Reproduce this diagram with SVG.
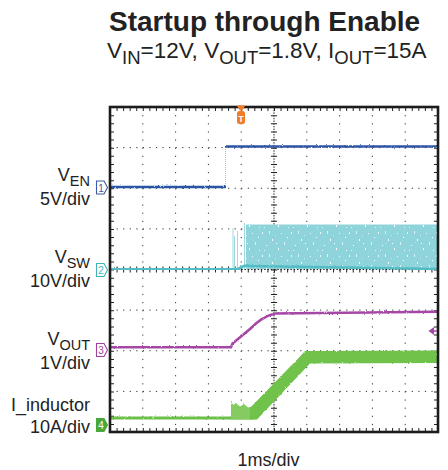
<svg xmlns="http://www.w3.org/2000/svg" width="448" height="470" viewBox="0 0 448 470">
  <defs>
    <style>
      .lbl { font-family: "Liberation Sans", Arial, sans-serif; font-size: 18px; fill: #222; }
      .title { font-family: "Liberation Sans", Arial, sans-serif; font-size: 28px; font-weight: bold; fill: #222; }
      .sub { font-family: "Liberation Sans", Arial, sans-serif; font-size: 22.5px; fill: #222; }
      .hgrid { stroke: #333; stroke-width: 1; stroke-dasharray: 1.2 5.36; fill: none; }
      .vgrid { stroke: #333; stroke-width: 1; stroke-dasharray: 1.2 6.925; fill: none; }
      .tag { stroke-width: 1.1; }
      .tagnum { font-family: "Liberation Sans", Arial, sans-serif; font-size: 10px; text-anchor: middle; }
    </style>
    <!-- roughness applied to the scope traces -->
    <filter id="rough" x="-5%" y="-20%" width="110%" height="140%">
      <feTurbulence type="fractalNoise" baseFrequency="0.9" numOctaves="2" seed="3" result="n"/>
      <feDisplacementMap in="SourceGraphic" in2="n" scale="2.2" xChannelSelector="R" yChannelSelector="G"/>
    </filter>
    <!-- speckled fill for the switching-node band -->
    <pattern id="speck" width="29" height="23" patternUnits="userSpaceOnUse">
      <rect width="29" height="23" fill="#8fd4db"/>
      <rect x="1" y="2" width="1" height="2" fill="#eef9fa"/>
      <rect x="5" y="15" width="1" height="1" fill="#ffffff"/>
      <rect x="8" y="1" width="1" height="3" fill="#d8f1f3"/>
      <rect x="11" y="9" width="1" height="2" fill="#ffffff"/>
      <rect x="3" y="20" width="1" height="1" fill="#e2f4f6"/>
      <rect x="14" y="5" width="1" height="1" fill="#c4e9ec"/>
      <rect x="17" y="18" width="1" height="2" fill="#ffffff"/>
      <rect x="20" y="3" width="1" height="1" fill="#eef9fa"/>
      <rect x="23" y="12" width="1" height="3" fill="#d8f1f3"/>
      <rect x="26" y="7" width="1" height="1" fill="#ffffff"/>
      <rect x="9" y="12" width="1" height="1" fill="#b0e0e5"/>
      <rect x="27" y="20" width="1" height="1" fill="#e8f7f8"/>
      <rect x="15" y="13" width="1" height="1" fill="#ffffff"/>
    </pattern>
  </defs>

  <rect width="448" height="470" fill="#ffffff"/>

  <!-- heading -->
  <g id="title">
    <text class="title" x="109" y="31">Startup through Enable</text>
    <text class="sub" x="107" y="58">V<tspan font-size="18.5" dy="6">IN</tspan><tspan dy="-6">=12V, V</tspan><tspan font-size="18.5" dy="6">OUT</tspan><tspan dy="-6">=1.8V, I</tspan><tspan font-size="18.5" dy="6">OUT</tspan><tspan dy="-6">=15A</tspan></text>
  </g>

  <!-- graticule -->
  <g id="graticule">
    <g class="hgrid">
      <line x1="110" y1="147.6" x2="438" y2="147.6"/>
      <line x1="110" y1="188.25" x2="438" y2="188.25"/>
      <line x1="110" y1="228.9" x2="438" y2="228.9"/>
      <line x1="110" y1="310.1" x2="438" y2="310.1"/>
      <line x1="110" y1="350.75" x2="438" y2="350.75"/>
      <line x1="110" y1="391.4" x2="438" y2="391.4"/>
    </g>
    <g class="vgrid">
      <line x1="142.8" y1="107" x2="142.8" y2="432"/>
      <line x1="175.6" y1="107" x2="175.6" y2="432"/>
      <line x1="208.4" y1="107" x2="208.4" y2="432"/>
      <line x1="241.2" y1="107" x2="241.2" y2="432"/>
      <line x1="306.8" y1="107" x2="306.8" y2="432"/>
      <line x1="339.6" y1="107" x2="339.6" y2="432"/>
      <line x1="372.4" y1="107" x2="372.4" y2="432"/>
      <line x1="405.2" y1="107" x2="405.2" y2="432"/>
    </g>
    <!-- centre axes with minor ticks -->
    <line x1="110" y1="269.5" x2="438" y2="269.5" stroke="#222" stroke-width="1" stroke-dasharray="1.5 1.78"/>
    <line x1="110" y1="269.5" x2="438" y2="269.5" stroke="#222" stroke-width="6" stroke-dasharray="1 5.56"/>
    <line x1="274" y1="107" x2="274" y2="432" stroke="#222" stroke-width="1" stroke-dasharray="1.5 1.2"/>
    <line x1="274" y1="107" x2="274" y2="432" stroke="#222" stroke-width="6" stroke-dasharray="1 7.125"/>
    <!-- border ticks -->
    <line x1="110" y1="109.5" x2="438" y2="109.5" stroke="#222" stroke-width="3" stroke-dasharray="1 5.56"/>
    <line x1="110" y1="429.5" x2="438" y2="429.5" stroke="#222" stroke-width="3" stroke-dasharray="1 5.56"/>
    <line x1="112.5" y1="107" x2="112.5" y2="432" stroke="#222" stroke-width="3" stroke-dasharray="1 7.125"/>
    <line x1="435.5" y1="107" x2="435.5" y2="432" stroke="#222" stroke-width="3" stroke-dasharray="1 7.125"/>
  </g>

  <!-- traces -->
  <g id="connectors">
    <!-- V_EN -->
    <g id="trace-ven">
      <line x1="225.5" y1="147" x2="225.5" y2="187" stroke="#aab9e2" stroke-width="1" stroke-dasharray="1 1"/>
      <g filter="url(#rough)" stroke="#2b55a6" stroke-width="2.6" fill="none">
        <path d="M110,187 H225.5"/>
        <path d="M225,146.5 H437"/>
      </g>
    </g>
    <!-- V_SW -->
    <g id="trace-vsw">
      <g stroke="#8fd4db" stroke-width="1" opacity="0.85">
        <line x1="233" y1="228" x2="233" y2="269"/>
        <line x1="234.5" y1="236" x2="234.5" y2="269"/>
        <line x1="237.5" y1="231" x2="237.5" y2="269"/>
        <line x1="244.5" y1="223" x2="244.5" y2="269"/>
      </g>
      <rect x="246" y="224.5" width="191" height="44.5" fill="url(#speck)"/>
      <path d="M110,269.2 H238 Q244,264.5 250,266 L437,269" stroke="#52bcc5" stroke-width="2.6" fill="none" filter="url(#rough)"/>
    </g>
    <!-- V_OUT -->
    <g id="trace-vout" filter="url(#rough)">
      <path d="M110,347.3 L231,347.3 L232.5,343.5 L250,329 Q262,316.5 275,313.5 L437,311.8" stroke="#a446a6" stroke-width="2.6" fill="none"/>
    </g>
    <!-- I_inductor -->
    <g id="trace-il" filter="url(#rough)">
      <path d="M110,418 H251" stroke="#6cc04a" stroke-width="3" fill="none"/>
      <path d="M231,419.5 L231,400 L233,405 L236,403 L240,406.5 L244,404 L248,407.5 L252,406.5 L255,419.5 Z" fill="#84cc62"/>
      <path d="M250,419.5 L250,408 L300,356.5 L305,351 L437,350.5 L437,363 L310,363.5 L257,419.5 Z" fill="#6fc24c"/>
    </g>
  </g>

  <!-- frame -->
  <rect x="110" y="107" width="328" height="325" fill="none" stroke="#1c1c1c" stroke-width="2.6"/>

  <!-- trigger position marker -->
  <g id="trigger">
    <path d="M236.5,105.5 H245.5 L242,110.5 H240 Z" fill="#f07c28"/>
    <rect x="237" y="111" width="8" height="13" rx="2.5" fill="#f07c28"/>
    <text x="241" y="121.5" font-family="Liberation Sans, Arial, sans-serif" font-size="9" font-weight="bold" fill="#ffffff" text-anchor="middle">T</text>
  </g>

  <!-- V_OUT reference level arrow -->
  <g id="vout-ref">
    <path d="M428.5,331 L434,327 L434,335 Z" fill="#a446a6"/>
    <line x1="433" y1="331" x2="437" y2="331" stroke="#a446a6" stroke-width="1.5"/>
  </g>

  <!-- channel markers -->
  <g id="ch1">
    <path class="tag" d="M96.5,181 H104 L107.5,187.5 L104,194 H96.5 Z" fill="#ffffff" stroke="#3d5aa6"/>
    <text class="tagnum" x="101" y="191.5" fill="#3d5aa6">1</text>
  </g>
  <g id="ch2">
    <path class="tag" d="M96.5,263.5 H104 L107.5,270 L104,276.5 H96.5 Z" fill="#ffffff" stroke="#3fb2ba"/>
    <text class="tagnum" x="101" y="274" fill="#3fb2ba">2</text>
  </g>
  <g id="ch3">
    <path class="tag" d="M96.5,343.5 H104 L107.5,350 L104,356.5 H96.5 Z" fill="#ffffff" stroke="#a040a2"/>
    <text class="tagnum" x="101" y="354" fill="#a040a2">3</text>
  </g>
  <g id="ch4">
    <path class="tag" d="M96.5,418.5 H104 L107.5,425 L104,431.5 H96.5 Z" fill="#4aa83a" stroke="#4aa83a"/>
    <text class="tagnum" x="101" y="429" fill="#ffffff">4</text>
  </g>

  <!-- channel labels -->
  <g id="label-ven">
    <text class="lbl" x="90" y="181" text-anchor="end">V<tspan font-size="14.5" dy="5">EN</tspan></text>
    <text class="lbl" x="90" y="205" text-anchor="end">5V/div</text>
  </g>
  <g id="label-vsw">
    <text class="lbl" x="90" y="263" text-anchor="end">V<tspan font-size="14.5" dy="5">SW</tspan></text>
    <text class="lbl" x="90" y="287" text-anchor="end">10V/div</text>
  </g>
  <g id="label-vout">
    <text class="lbl" x="90" y="345" text-anchor="end">V<tspan font-size="14.5" dy="5">OUT</tspan></text>
    <text class="lbl" x="90" y="369" text-anchor="end">1V/div</text>
  </g>
  <g id="label-il">
    <text class="lbl" x="90" y="411" text-anchor="end">I_inductor</text>
    <text class="lbl" x="90" y="433" text-anchor="end">10A/div</text>
  </g>

  <!-- time base -->
  <text class="lbl" x="268.5" y="466" text-anchor="middle">1ms/div</text>
</svg>
